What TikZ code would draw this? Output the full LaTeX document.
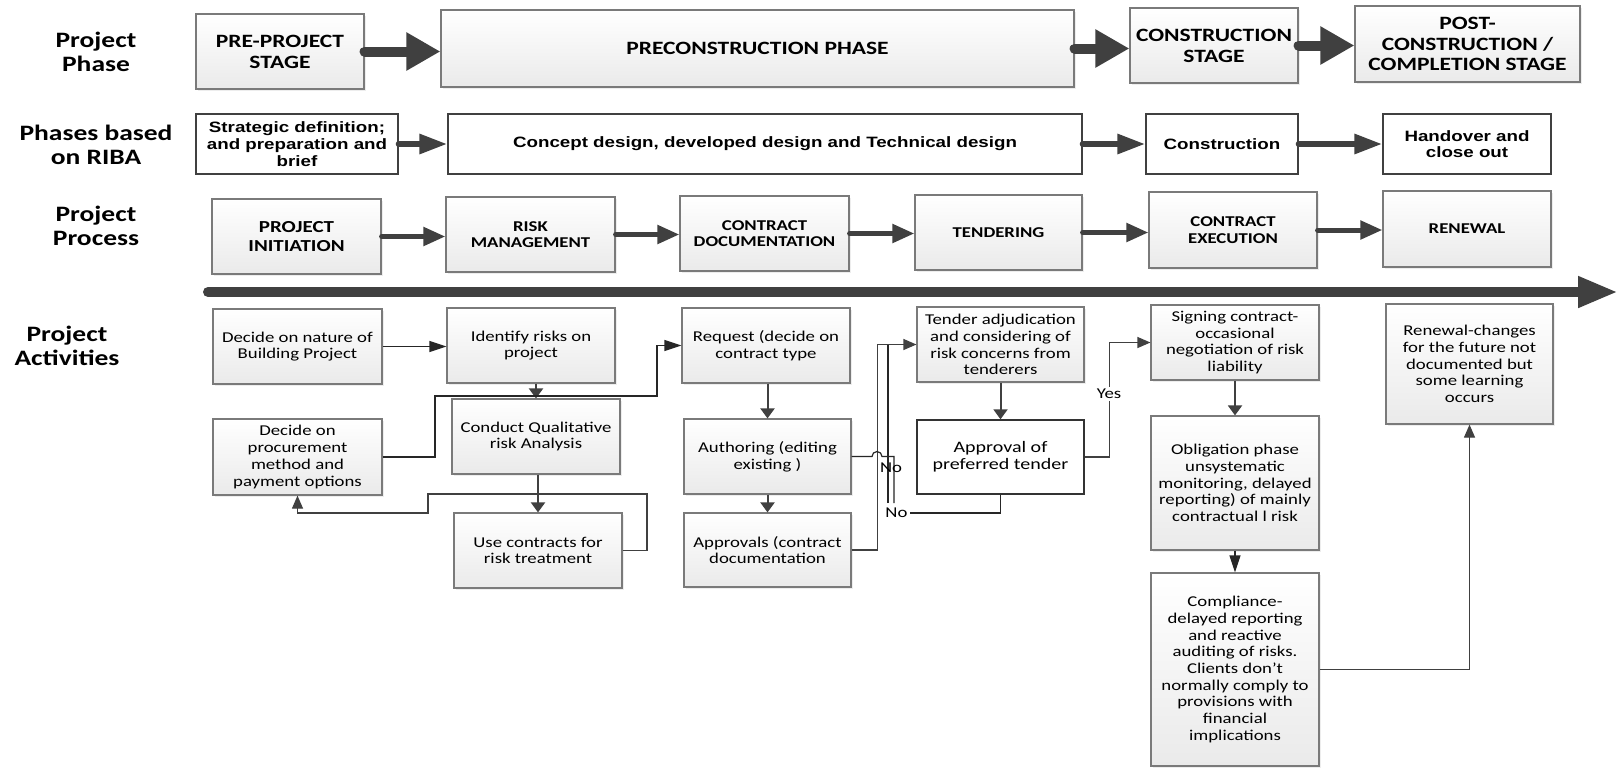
\documentclass[tikz,border=0pt]{standalone}
\usepackage{fontspec}
\setmainfont{Carlito}[FakeStretch=1.25]
\newfontfamily\ribafont{Liberation Sans}[FakeStretch=1.25]
\usetikzlibrary{arrows.meta,shadows}

\definecolor{arrowgray}{HTML}{404040}
\definecolor{edgegray}{HTML}{7A7A7A}
\definecolor{fillgray}{HTML}{EAEAEA}

\tikzset{
    boxsize/.style 2 args={minimum width=#1*0.5pt, minimum height=#2*0.5pt},
    shadedbox/.style={draw=edgegray, line width=0.6pt, top color=white, bottom color=fillgray,
        drop shadow={shadow xshift=1.2pt, shadow yshift=-1.2pt, opacity=0.14},
        align=center, inner sep=1pt},
    rowlabel/.style={align=center, font=\bfseries\fontsize{11}{12}\selectfont},
    stage/.style={shadedbox, font=\bfseries\fontsize{9.4}{10.4}\selectfont},
    riba/.style={draw=arrowgray, line width=0.7pt, fill=white, align=center, inner sep=1pt,
        font=\ribafont\bfseries\fontsize{7.5}{8.35}\selectfont},
    process/.style={shadedbox, font=\bfseries\fontsize{7.5}{8.35}\selectfont},
    activity/.style={shadedbox, font=\fontsize{7.5}{8.35}\selectfont},
    bigarrow/.style={draw=arrowgray, line cap=round},
    link/.style={draw=black!85, line width=0.6pt},
    flow/.style={draw=arrowgray, line width=1pt, -{Triangle[length=5pt,width=7pt]}},
    ghead/.style={-{Triangle[length=6.5pt,width=5.5pt]}},
    bhead/.style={-{Triangle[length=8.5pt,width=5.5pt]}},
    lbl/.style={inner sep=1pt, font=\fontsize{7.5}{8.35}\selectfont}
}

\begin{document}
\begin{tikzpicture}[x=0.5pt,y=-0.5pt]
    \useasboundingbox (0,0) rectangle (1620,767);
    \fill[white] (0,0) rectangle (1620,767);

    % row titles
    \node[rowlabel] (lphase) at (96,52) {Project\\Phase};
    \node[rowlabel] (lriba) at (96,144.5) {Phases based\\on RIBA};
    \node[rowlabel] (lprocess) at (96,226) {Project\\Process};
    \node[rowlabel] (lactivity) at (67,345.5) {Project\\Activities};

    % project phase
    \node[stage, boxsize={168}{75}] (pre) at (280,51.5) {PRE-PROJECT\\STAGE};
    \node[stage, boxsize={633}{77}] (precon) at (757.5,48.5) {PRECONSTRUCTION PHASE};
    \node[stage, boxsize={168}{75}] (constr) at (1214,45.5) {CONSTRUCTION\\STAGE};
    \node[stage, boxsize={225}{76}] (post) at (1467.5,44) {POST-\\CONSTRUCTION /\\COMPLETION STAGE};

    \draw[bigarrow, line width=5pt, -{Triangle[length=17pt,width=18pt]}] (pre.east) -- (pre.east -| precon.west);
    \draw[bigarrow, line width=5pt, -{Triangle[length=17pt,width=18pt]}] (precon.east) -- (precon.east -| constr.west);
    \draw[bigarrow, line width=5pt, -{Triangle[length=17pt,width=18pt]}] (constr.east) -- (constr.east -| post.west);

    % RIBA stages
    \node[riba, boxsize={202}{60}] (strat) at (297,144) {Strategic definition;\\and preparation and\\brief};
    \node[riba, boxsize={634}{60}] (concept) at (765,144) {Concept design, developed design and Technical design};
    \node[riba, boxsize={152}{60}] (constrb) at (1222,144) {Construction};
    \node[riba, boxsize={168}{60}] (handover) at (1467,144) {Handover and\\close out};

    \draw[bigarrow, line width=3pt, -{Triangle[length=14pt,width=9.5pt]}] (strat.east) -- (concept.west);
    \draw[bigarrow, line width=3pt, -{Triangle[length=14pt,width=9.5pt]}] (concept.east) -- (constrb.west);
    \draw[bigarrow, line width=3pt, -{Triangle[length=14pt,width=9.5pt]}] (constrb.east) -- (handover.west);

    % project process
    \node[process, boxsize={169}{75}, font=\bfseries\fontsize{8.4}{9.5}\selectfont] (init) at (296.5,236.5) {PROJECT\\INITIATION};
    \node[process, boxsize={169}{75}] (risk) at (530.5,234.5) {RISK\\MANAGEMENT};
    \node[process, boxsize={169}{75}] (cdoc) at (764.5,233.5) {CONTRACT\\DOCUMENTATION};
    \node[process, boxsize={167}{75}] (tender) at (998.5,232.5) {TENDERING};
    \node[process, boxsize={168}{76}] (cexec) at (1233,230) {CONTRACT\\EXECUTION};
    \node[process, boxsize={168}{76}] (renew) at (1467,229) {RENEWAL};

    \foreach \a/\b in {init/risk,risk/cdoc,cdoc/tender,tender/cexec,cexec/renew}
        \draw[bigarrow, line width=2.5pt, -{Triangle[length=11pt,width=9pt]}] (\a.east) -- (\a.east -| \b.west);

    % time line
    \coordinate (tstart) at (208,292);
    \coordinate (tend) at (1618,292);
    \draw[bigarrow, line width=5pt, -{Triangle[length=20pt,width=14.5pt]}] (tstart) -- (tend);

    % project activities
    \node[activity, boxsize={169}{75}] (nature) at (297.5,346.5) {Decide on nature of\\Building Project};
    \node[activity, boxsize={168}{75}] (identify) at (531,345.5) {Identify risks on\\project};
    \node[activity, boxsize={169}{76}] (procure) at (297.5,457) {Decide on\\procurement\\method and\\payment options};
    \node[activity, boxsize={168}{75}] (conduct) at (536,436.5) {Conduct Qualitative\\risk Analysis};
    \node[activity, boxsize={168}{75}] (usec) at (538,550.5) {Use contracts for\\risk treatment};
    \node[activity, boxsize={168}{75}] (request) at (766,345.5) {Request (decide on\\contract type};
    \node[activity, boxsize={167}{75}] (author) at (767.5,456.5) {Authoring (editing\\existing )};
    \node[activity, boxsize={167}{74}] (approv) at (767.5,550) {Approvals (contract\\documentation};
    \node[activity, boxsize={167}{75}] (adjud) at (1000.5,344.5) {Tender adjudication\\and considering of\\risk concerns from\\tenderers};
    \node[riba, boxsize={167}{74}, draw=black!80, font=\fontsize{8}{8.35}\selectfont] (prefer) at (1000.5,457) {Approval of\\preferred tender};
    \node[activity, boxsize={168}{75}] (signing) at (1235,342.5) {Signing contract-\\occasional\\negotiation of risk\\liability};
    \node[activity, boxsize={168}{134}] (oblig) at (1235,483) {Obligation phase\\unsystematic\\monitoring, delayed\\reporting) of mainly\\contractual l risk};
    \node[activity, boxsize={168}{193}] (compl) at (1235,669.5) {Compliance-\\delayed reporting\\and reactive\\auditing of risks.\\Clients don’t\\normally comply to\\provisions with\\financial\\implications};
    \node[activity, boxsize={167}{120}] (renewch) at (1469.5,364) {Renewal-changes\\for the future not\\documented but\\some learning\\occurs};

    \coordinate (pbend1) at (435,396);
    \coordinate (pbend2) at (657,345.5);
    \coordinate (ubend1) at (647,494);
    \coordinate (ubend2) at (428,513);
    \coordinate (hopin) at (872,456.5);
    \coordinate (nofoot) at (888,503);
    \coordinate (noend) at (910,513);

    \draw[link, bhead] (nature.east) -- (nature.east -| identify.west);
    \draw[flow] (conduct.north |- identify.south) -- (conduct.north);
    \draw[link, bhead] (procure.east) -| (pbend1) -| (pbend2) -- (request.west);
    \draw[flow] (usec.north |- conduct.south) -- (usec.north);
    \draw[link, draw=arrowgray, ghead] (usec.east) -| (ubend1) -| (ubend2) -| (procure.south);

    \draw[flow] (author.north |- request.south) -- (author.north);
    \draw[flow] (author.south) -- (approv.north);
    \draw[link, draw=arrowgray, ghead] (approv.east) -- ++(26,0) |- (adjud.west);
    \draw[link] (author.east) -- (hopin) arc[start angle=180, end angle=360, radius=5] -- ++(12,0) -- ++(0,46.5);
    \draw[link] (nofoot) -- (nofoot |- adjud.west);
    \node[lbl] (noup) at (891,468) {No};
    \draw[link] (prefer.south) |- (noend) node[lbl, anchor=east] (nodown) {No};

    \draw[flow] (adjud.south) -- (prefer.north);
    \draw[link, draw=arrowgray, ghead] (prefer.east) -- ++(25,0) |- (signing.west);
    \node[lbl, fill=white] (yes) at (1109,394) {Yes};
    \draw[flow] (signing.south) -- (oblig.north);
    \draw[link, bhead] (oblig.south) -- (compl.north);
    \draw[link, draw=arrowgray, ghead] (compl.east) -| (renewch.south);
\end{tikzpicture}
\end{document}
